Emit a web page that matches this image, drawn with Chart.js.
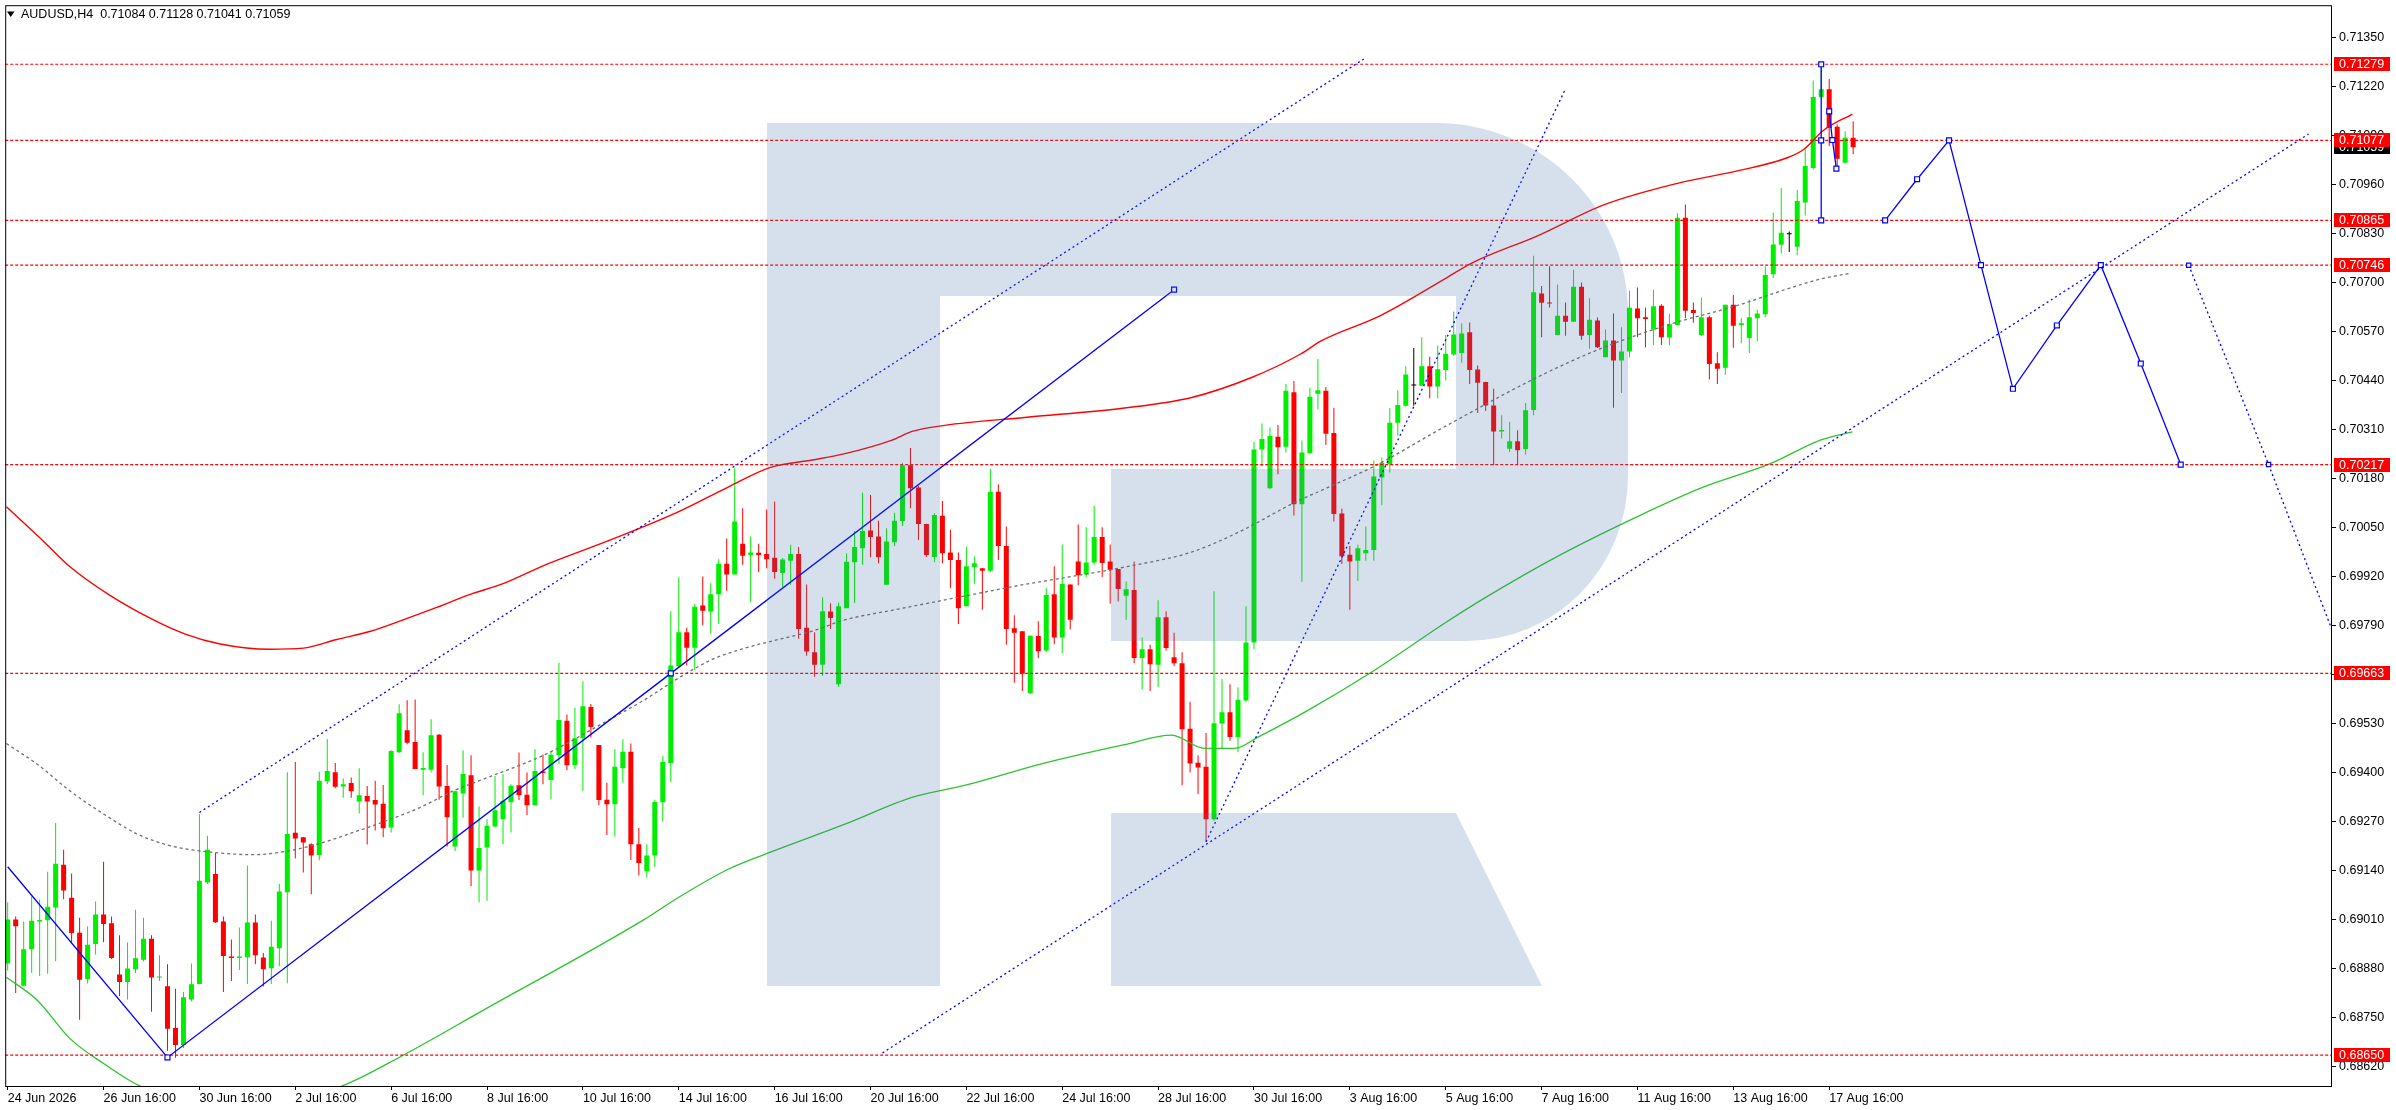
<!DOCTYPE html>
<html>
<head>
<meta charset="utf-8">
<title>AUDUSD,H4</title>
<script src="https://cdn.jsdelivr.net/npm/chart.js@4.4.1/dist/chart.umd.min.js"></script>
<style>
html, body { margin: 0; padding: 0; background: #fff; overflow: hidden; }
canvas { display: block; }
</style>
</head>
<body>
<canvas id="chart" width="2396" height="1110" style="width:2396px;height:1110px"></canvas>
<script>
// candles (H4): open / high / low / close
const opens = [
    0.68893, 0.69010, 0.68834, 0.68931, 0.69005, 0.69008, 0.69042, 0.69155, 0.69068, 0.68975,
    0.68852, 0.68945, 0.69023, 0.69000, 0.68864, 0.68844, 0.68878, 0.68903, 0.68959, 0.68856,
    0.68833, 0.68722, 0.68677, 0.68798, 0.68839, 0.69108, 0.69131, 0.69005, 0.68912, 0.68908,
    0.68910, 0.69002, 0.68909, 0.68881, 0.68934, 0.69082, 0.69240, 0.69228, 0.69210, 0.69181,
    0.69377, 0.69401, 0.69363, 0.69372, 0.69323, 0.69338, 0.69327, 0.69317, 0.69254, 0.69454,
    0.69512, 0.69481, 0.69407, 0.69407, 0.69500, 0.69364, 0.69204, 0.69344, 0.69393, 0.69140,
    0.69201, 0.69257, 0.69276, 0.69321, 0.69366, 0.69341, 0.69313, 0.69403, 0.69380, 0.69446,
    0.69537, 0.69419, 0.69491, 0.69574, 0.69473, 0.69328, 0.69316, 0.69411, 0.69455, 0.69210,
    0.69138, 0.69180, 0.69321, 0.69425, 0.69682, 0.69772, 0.69731, 0.69843, 0.69827, 0.69873,
    0.69954, 0.69925, 0.70007, 0.69977, 0.69983, 0.69980, 0.69970, 0.69929, 0.69962, 0.69980,
    0.69784, 0.69719, 0.69686, 0.69827, 0.69634, 0.69836, 0.69958, 0.69995, 0.70042, 0.70026,
    0.69898, 0.70011, 0.70067, 0.70215, 0.70156, 0.70059, 0.69972, 0.70081, 0.69984, 0.69964,
    0.69841, 0.69945, 0.69942, 0.69935, 0.70145, 0.70001, 0.69783, 0.69775, 0.69611, 0.69762,
    0.69724, 0.69873, 0.69758, 0.69899, 0.69960, 0.69925, 0.69957, 0.70025, 0.69960, 0.69940,
    0.69869, 0.69884, 0.69704, 0.69727, 0.69686, 0.69812, 0.69706, 0.69690, 0.69516, 0.69426,
    0.69415, 0.69276, 0.69530, 0.69560, 0.69494, 0.69591, 0.69745, 0.70257, 0.70154, 0.70291,
    0.70264, 0.70409, 0.70112, 0.70247, 0.70405, 0.70413, 0.70301, 0.70087, 0.69978, 0.69962,
    0.69982, 0.69990, 0.70183, 0.70218, 0.70328, 0.70373, 0.70427, 0.70426, 0.70478, 0.70424,
    0.70468, 0.70509, 0.70513, 0.70568, 0.70469, 0.70436, 0.70374, 0.70305, 0.70259, 0.70279,
    0.70258, 0.70362, 0.70671, 0.70647, 0.70561, 0.70612, 0.70596, 0.70689, 0.70561, 0.70599,
    0.70502, 0.70546, 0.70493, 0.70517, 0.70631, 0.70608, 0.70575, 0.70638, 0.70554, 0.70587,
    0.70872, 0.70627, 0.70561, 0.70608, 0.70486, 0.70474, 0.70641, 0.70587, 0.70553, 0.70605,
    0.70616, 0.70722, 0.70800, 0.70828, 0.70795, 0.70912, 0.71004, 0.71192, 0.71213, 0.71113,
    0.71018, 0.71084
];
const highs = [
    0.69056, 0.69018, 0.69005, 0.69071, 0.69063, 0.69137, 0.69266, 0.69195, 0.69132, 0.69015,
    0.68992, 0.69058, 0.69163, 0.69018, 0.68968, 0.68949, 0.69036, 0.69015, 0.68968, 0.68915,
    0.68891, 0.68826, 0.68818, 0.68893, 0.69289, 0.69232, 0.69187, 0.69018, 0.68957, 0.68989,
    0.69153, 0.69023, 0.68921, 0.69007, 0.69105, 0.69401, 0.69428, 0.69229, 0.69212, 0.69402,
    0.69489, 0.69425, 0.69384, 0.69387, 0.69411, 0.69364, 0.69378, 0.69367, 0.69459, 0.69581,
    0.69592, 0.69594, 0.69454, 0.69541, 0.69502, 0.69420, 0.69352, 0.69459, 0.69446, 0.69310,
    0.69276, 0.69391, 0.69396, 0.69369, 0.69453, 0.69400, 0.69462, 0.69448, 0.69457, 0.69691,
    0.69554, 0.69572, 0.69642, 0.69582, 0.69473, 0.69373, 0.69462, 0.69488, 0.69477, 0.69253,
    0.69210, 0.69328, 0.69444, 0.69828, 0.69918, 0.69784, 0.69847, 0.69920, 0.69902, 0.69966,
    0.70021, 0.70207, 0.70101, 0.70026, 0.70007, 0.70098, 0.70119, 0.69969, 0.70004, 0.69998,
    0.69899, 0.69772, 0.69865, 0.69849, 0.69851, 0.69982, 0.70041, 0.70143, 0.70136, 0.70068,
    0.70048, 0.70089, 0.70222, 0.70261, 0.70161, 0.70060, 0.70088, 0.70120, 0.70044, 0.69984,
    0.69999, 0.69973, 0.69942, 0.70205, 0.70164, 0.70053, 0.69817, 0.69775, 0.69763, 0.69801,
    0.69889, 0.69947, 0.70005, 0.69899, 0.70058, 0.70051, 0.70107, 0.70051, 0.70005, 0.69940,
    0.69907, 0.69960, 0.69758, 0.69739, 0.69857, 0.69828, 0.69771, 0.69719, 0.69588, 0.69446,
    0.69505, 0.69881, 0.69648, 0.69634, 0.69626, 0.69841, 0.70277, 0.70326, 0.70315, 0.70322,
    0.70431, 0.70439, 0.70281, 0.70421, 0.70497, 0.70423, 0.70368, 0.70100, 0.70001, 0.70004,
    0.70053, 0.70228, 0.70236, 0.70367, 0.70414, 0.70478, 0.70526, 0.70555, 0.70503, 0.70533,
    0.70561, 0.70623, 0.70592, 0.70594, 0.70480, 0.70437, 0.70418, 0.70348, 0.70330, 0.70308,
    0.70380, 0.70771, 0.70691, 0.70743, 0.70695, 0.70647, 0.70734, 0.70700, 0.70658, 0.70607,
    0.70575, 0.70618, 0.70581, 0.70679, 0.70687, 0.70634, 0.70681, 0.70642, 0.70617, 0.70884,
    0.70907, 0.70647, 0.70660, 0.70612, 0.70515, 0.70641, 0.70667, 0.70605, 0.70654, 0.70628,
    0.70743, 0.70885, 0.70951, 0.70835, 0.70946, 0.71053, 0.71236, 0.71279, 0.71240, 0.71119,
    0.71101, 0.71128
];
const lows = [
    0.68875, 0.68815, 0.68834, 0.68868, 0.68860, 0.68866, 0.68899, 0.69064, 0.68950, 0.68744,
    0.68840, 0.68917, 0.68950, 0.68905, 0.68807, 0.68798, 0.68868, 0.68899, 0.68765, 0.68847,
    0.68662, 0.68643, 0.68669, 0.68793, 0.68839, 0.69104, 0.69001, 0.68818, 0.68847, 0.68876,
    0.68839, 0.68891, 0.68832, 0.68839, 0.68886, 0.68841, 0.69172, 0.69135, 0.69077, 0.69167,
    0.69369, 0.69358, 0.69333, 0.69333, 0.69291, 0.69209, 0.69246, 0.69228, 0.69241, 0.69452,
    0.69475, 0.69409, 0.69340, 0.69400, 0.69328, 0.69204, 0.69192, 0.69280, 0.69098, 0.69056,
    0.69060, 0.69254, 0.69210, 0.69241, 0.69327, 0.69287, 0.69313, 0.69369, 0.69329, 0.69422,
    0.69406, 0.69409, 0.69351, 0.69493, 0.69314, 0.69234, 0.69230, 0.69373, 0.69168, 0.69127,
    0.69122, 0.69150, 0.69270, 0.69375, 0.69678, 0.69684, 0.69671, 0.69791, 0.69768, 0.69794,
    0.69882, 0.69925, 0.69951, 0.69852, 0.69932, 0.69942, 0.69914, 0.69892, 0.69898, 0.69755,
    0.69710, 0.69654, 0.69656, 0.69781, 0.69627, 0.69836, 0.69850, 0.69951, 0.69971, 0.69955,
    0.69898, 0.70001, 0.70054, 0.70101, 0.70017, 0.69972, 0.69958, 0.69955, 0.69889, 0.69794,
    0.69841, 0.69901, 0.69832, 0.69932, 0.69964, 0.69739, 0.69638, 0.69616, 0.69608, 0.69704,
    0.69720, 0.69740, 0.69717, 0.69780, 0.69897, 0.69918, 0.69952, 0.69919, 0.69848, 0.69854,
    0.69805, 0.69690, 0.69620, 0.69616, 0.69626, 0.69724, 0.69682, 0.69366, 0.69400, 0.69343,
    0.69216, 0.69272, 0.69464, 0.69484, 0.69454, 0.69588, 0.69727, 0.70213, 0.70152, 0.70191,
    0.70249, 0.70082, 0.69906, 0.70247, 0.70363, 0.70269, 0.70066, 0.69953, 0.69832, 0.69908,
    0.69962, 0.69962, 0.70109, 0.70196, 0.70294, 0.70371, 0.70373, 0.70426, 0.70393, 0.70392,
    0.70440, 0.70506, 0.70487, 0.70431, 0.70354, 0.70359, 0.70215, 0.70286, 0.70250, 0.70215,
    0.70244, 0.70348, 0.70555, 0.70634, 0.70561, 0.70559, 0.70596, 0.70548, 0.70524, 0.70526,
    0.70502, 0.70368, 0.70407, 0.70502, 0.70555, 0.70528, 0.70534, 0.70534, 0.70534, 0.70587,
    0.70605, 0.70593, 0.70559, 0.70443, 0.70431, 0.70455, 0.70527, 0.70539, 0.70513, 0.70544,
    0.70608, 0.70712, 0.70777, 0.70781, 0.70772, 0.70878, 0.71000, 0.71190, 0.71062, 0.71009,
    0.71016, 0.71041
];
const closes = [
    0.69010, 0.68992, 0.68931, 0.69007, 0.69009, 0.69044, 0.69158, 0.69087, 0.68974, 0.68850,
    0.68943, 0.69023, 0.68998, 0.68908, 0.68844, 0.68880, 0.68907, 0.68959, 0.68856, 0.68859,
    0.68720, 0.68677, 0.68804, 0.68838, 0.69113, 0.69195, 0.69003, 0.68913, 0.68908, 0.68912,
    0.69002, 0.68915, 0.68878, 0.68938, 0.69084, 0.69237, 0.69225, 0.69214, 0.69180, 0.69378,
    0.69404, 0.69362, 0.69369, 0.69350, 0.69340, 0.69323, 0.69315, 0.69252, 0.69457, 0.69557,
    0.69479, 0.69409, 0.69412, 0.69499, 0.69363, 0.69281, 0.69350, 0.69396, 0.69140, 0.69200,
    0.69259, 0.69300, 0.69325, 0.69365, 0.69340, 0.69313, 0.69404, 0.69399, 0.69447, 0.69539,
    0.69419, 0.69491, 0.69576, 0.69521, 0.69327, 0.69316, 0.69415, 0.69455, 0.69210, 0.69160,
    0.69180, 0.69322, 0.69428, 0.69684, 0.69772, 0.69731, 0.69840, 0.69829, 0.69873, 0.69954,
    0.69925, 0.70066, 0.69975, 0.69984, 0.69977, 0.69966, 0.69932, 0.69965, 0.69980, 0.69781,
    0.69721, 0.69686, 0.69828, 0.69810, 0.69841, 0.69959, 0.69998, 0.70041, 0.70025, 0.69971,
    0.70013, 0.70068, 0.70215, 0.70154, 0.70059, 0.69977, 0.70083, 0.69982, 0.69964, 0.69836,
    0.69947, 0.69955, 0.69935, 0.70145, 0.70001, 0.69781, 0.69771, 0.69662, 0.69763, 0.69722,
    0.69871, 0.69758, 0.69900, 0.69805, 0.69924, 0.69957, 0.70025, 0.69956, 0.69938, 0.69887,
    0.69886, 0.69704, 0.69727, 0.69687, 0.69812, 0.69730, 0.69690, 0.69515, 0.69424, 0.69413,
    0.69276, 0.69531, 0.69560, 0.69494, 0.69593, 0.69745, 0.70257, 0.70285, 0.70293, 0.70263,
    0.70413, 0.70112, 0.70249, 0.70397, 0.70414, 0.70299, 0.70086, 0.69974, 0.69960, 0.69995,
    0.69990, 0.70185, 0.70222, 0.70328, 0.70375, 0.70456, 0.70427, 0.70478, 0.70424, 0.70470,
    0.70511, 0.70562, 0.70565, 0.70468, 0.70434, 0.70374, 0.70305, 0.70309, 0.70279, 0.70255,
    0.70361, 0.70674, 0.70646, 0.70644, 0.70612, 0.70596, 0.70689, 0.70559, 0.70601, 0.70528,
    0.70546, 0.70493, 0.70517, 0.70633, 0.70605, 0.70603, 0.70637, 0.70555, 0.70589, 0.70872,
    0.70625, 0.70619, 0.70608, 0.70484, 0.70471, 0.70641, 0.70585, 0.70592, 0.70608, 0.70618,
    0.70720, 0.70801, 0.70832, 0.70828, 0.70916, 0.71009, 0.71192, 0.71213, 0.71110, 0.71028,
    0.71084, 0.71059
];

// axis ticks
const xTickBars = [0, 12, 24, 36, 48, 60, 72, 84, 96, 108, 120, 132, 144, 156, 168, 180, 192, 204, 216, 228];
const xTickLabels = ['24 Jun 2026', '26 Jun 16:00', '30 Jun 16:00', '2 Jul 16:00', '6 Jul 16:00',
    '8 Jul 16:00', '10 Jul 16:00', '14 Jul 16:00', '16 Jul 16:00', '20 Jul 16:00', '22 Jul 16:00',
    '24 Jul 16:00', '28 Jul 16:00', '30 Jul 16:00', '3 Aug 16:00', '5 Aug 16:00', '7 Aug 16:00',
    '11 Aug 16:00', '13 Aug 16:00', '17 Aug 16:00'];
const yTickValues = [0.68620, 0.68750, 0.68880, 0.69010, 0.69140, 0.69270, 0.69400, 0.69530,
    0.69660, 0.69790, 0.69920, 0.70050, 0.70180, 0.70310, 0.70440, 0.70570, 0.70700, 0.70830,
    0.70960, 0.71090, 0.71220, 0.71350];

// horizontal levels (red labels on the price scale)
const levelValues = [0.71279, 0.71077, 0.70865, 0.70746, 0.70217, 0.69663, 0.68650];

// moving averages (bar index, price)
const redMaX = [-0.16, 4.5, 7.8, 12.8, 18.25, 22.4, 26.6, 32.8, 37, 41.2, 45.3, 49.5, 53.7, 57.8,
    62, 67.3, 75.7, 84, 90.25, 95.4, 100.7, 104.8, 110.7, 113.2, 117.3, 127.3, 139.8, 148.2, 155.7,
    161.9, 164.4, 171.9, 180, 183.2, 191.5, 199.8, 209, 216.5, 222.75, 224.8, 227.3, 230.9];
const redMaY = [0.70105, 0.70013, 0.69946, 0.69870, 0.69805, 0.69766, 0.69741, 0.69727, 0.69730,
    0.69753, 0.69774, 0.69805, 0.69838, 0.69872, 0.69901, 0.69951, 0.70019, 0.70092, 0.70158,
    0.70209, 0.70229, 0.70246, 0.70282, 0.70305, 0.70321, 0.70342, 0.70367, 0.70395, 0.70448,
    0.70511, 0.70545, 0.70613, 0.70711, 0.70751, 0.70824, 0.70906, 0.70963, 0.70996, 0.71031,
    0.71053, 0.71104, 0.71147];
const greenMaX = [-0.16, 3.7, 7.8, 12, 16.6, 29, 41.8, 49.5, 59.5, 79.6, 84, 90.25, 95.4, 104.8,
    113.2, 120, 129.4, 139.8, 145.7, 149.8, 153.6, 156.5, 162.75, 170.7, 180, 184.8, 194.4, 204,
    212, 220.7, 226.9, 230.9];
const greenMaY = [0.68857, 0.68796, 0.68694, 0.68628, 0.68568, 0.68500, 0.68568, 0.68650, 0.68769,
    0.69009, 0.69069, 0.69144, 0.69188, 0.69263, 0.69334, 0.69367, 0.69423, 0.69474, 0.69499,
    0.69464, 0.69464, 0.69494, 0.69565, 0.69666, 0.69798, 0.69862, 0.69978, 0.70079, 0.70155,
    0.70220, 0.70282, 0.70304];
const grayMaX = [-0.16, 3.7, 7.8, 12, 16.2, 20.3, 24.5, 30.75, 34.9, 39.1, 43.25, 47.4, 51.6, 55.75,
    59.5, 67.3, 75.7, 79.8, 84, 88.2, 92.3, 96.5, 100.7, 104.8, 111.1, 120, 127.3, 135.7, 139.8,
    148.2, 154.4, 160.7, 164.8, 171.1, 180, 191.5, 199.8, 208.2, 216.5, 222.75, 226.9, 230.5];
const grayMaY = [0.69477, 0.69422, 0.69351, 0.69290, 0.69237, 0.69206, 0.69191, 0.69182, 0.69191,
    0.69212, 0.69241, 0.69272, 0.69307, 0.69351, 0.69382, 0.69448, 0.69545, 0.69594, 0.69651,
    0.69700, 0.69730, 0.69753, 0.69775, 0.69805, 0.69832, 0.69869, 0.69899, 0.69929, 0.69945,
    0.69985, 0.70041, 0.70112, 0.70152, 0.70213, 0.70319, 0.70449, 0.70528, 0.70590, 0.70639,
    0.70683, 0.70709, 0.70724];

// drawn objects (bar index, price)
const trendX = [0, 20, 83, 146];
const trendY = [0.69150, 0.68644, 0.69663, 0.70681];
const upperChannelX = [24, 169.75];
const upperChannelY = [0.69294, 0.71293];
const lowerChannelX = [109.5, 288];
const lowerChannelY = [0.68656, 0.71094];
const steepX = [150, 195];
const steepY = [0.69216, 0.71214];
const swingX = [227, 227, 227];
const swingY = [0.71279, 0.71077, 0.70865];
const pullbackX = [228, 228.4, 228.9];
const pullbackY = [0.71154, 0.71078, 0.71002];
const forecastX = [235, 239, 243, 247, 251, 256.5, 262, 267, 272];
const forecastY = [0.70865, 0.70974, 0.71077, 0.70746, 0.70418, 0.70586, 0.70746, 0.70485, 0.70217];
const altForecastX = [273, 283, 291];
const altForecastY = [0.70746, 0.70217, 0.69775];

const X_MIN = -0.3125;
const X_MAX = 290.9375;
const FONT = '12.5px "Liberation Sans", Arial, sans-serif';
const BULL = '#00EE00';
const BEAR = '#FF0000';
const BLUE = '#0000FF';

Chart.defaults.font.family = '"Liberation Sans", Arial, sans-serif';
Chart.defaults.font.size = 12.5;
Chart.defaults.color = '#000';

// ローソク足の色 (陽線・陰線・同値)
const candleColors = opens.map((o, i) => closes[i] > o ? BULL : (closes[i] < o ? BEAR : '#000'));

function lineSet(xs, ys, color, opt = {}) {
    return {
        type: 'line',
        data: xs.map((x, i) => ({x: x, y: ys[i]})),
        borderColor: color,
        borderWidth: opt.width || 1.3,
        borderDash: opt.dash || [],
        pointRadius: opt.points || 0,
        pointStyle: 'rect',
        pointBackgroundColor: '#fff',
        pointBorderColor: color,
        pointBorderWidth: 1.2,
        cubicInterpolationMode: opt.smooth ? 'monotone' : 'default',
        tension: 0,
        fill: false,
        order: opt.order || 1
    };
}

const datasets = [
    // wicks
    {
        type: 'bar',
        data: lows.map((l, i) => ({x: i, y: [l, highs[i]]})),
        backgroundColor: candleColors,
        barThickness: 1,
        grouped: false,
        inflateAmount: 0,
        borderWidth: 0,
        order: 9
    },
    // bodies
    {
        type: 'bar',
        data: opens.map((o, i) => ({x: i, y: [o, closes[i]]})),
        backgroundColor: candleColors,
        barThickness: 5,
        minBarLength: 1,
        grouped: false,
        inflateAmount: 0,
        borderWidth: 0,
        order: 8
    },
    lineSet(redMaX, redMaY, '#FF0000', {smooth: true, width: 1.4, order: 7}),
    lineSet(greenMaX, greenMaY, '#2EC42E', {smooth: true, width: 1.3, order: 7}),
    lineSet(grayMaX, grayMaY, '#707070', {smooth: true, dash: [3, 3], width: 1.3, order: 7}),
    ...levelValues.map(v => lineSet([X_MIN, X_MAX], [v, v], '#FF0000', {dash: [3, 2], width: 1.2, order: 6})),
    lineSet(trendX, trendY, BLUE, {points: [0, 3.5, 3.5, 3.5]}),
    lineSet(upperChannelX, upperChannelY, BLUE, {dash: [2, 3]}),
    lineSet(lowerChannelX, lowerChannelY, BLUE, {dash: [2, 3]}),
    lineSet(steepX, steepY, BLUE, {dash: [2, 3]}),
    lineSet(swingX, swingY, BLUE, {points: 3.5}),
    lineSet(pullbackX, pullbackY, BLUE, {points: 3.5}),
    lineSet(forecastX, forecastY, BLUE, {points: 3.5}),
    lineSet(altForecastX, altForecastY, BLUE, {dash: [2, 3], points: [3, 3, 0]})
];

// 背景
const background = {
    id: 'background',
    beforeDraw(chart) {
        const ctx = chart.ctx;
        ctx.save();
        ctx.fillStyle = '#fff';
        ctx.fillRect(0, 0, chart.width, chart.height);
        ctx.restore();
    }
};

// ロゴの透かし (R)
const watermark = {
    id: 'watermark',
    afterDatasetsDraw(chart) {
        const {ctx, chartArea: a} = chart;
        ctx.save();
        ctx.beginPath();
        ctx.rect(a.left, a.top, a.right - a.left, a.bottom - a.top);
        ctx.clip();
        ctx.fillStyle = 'rgba(70,115,170,0.22)';
        ctx.beginPath();
        ctx.rect(767, 123, 173, 863);
        ctx.moveTo(940, 123);
        ctx.lineTo(1436, 123);
        ctx.ellipse(1436, 313, 192, 190, 0, -Math.PI / 2, 0);
        ctx.lineTo(1628, 476);
        ctx.ellipse(1467, 476, 161, 165, 0, 0, Math.PI / 2);
        ctx.lineTo(1111, 641);
        ctx.lineTo(1111, 469);
        ctx.lineTo(1456, 469);
        ctx.lineTo(1456, 296);
        ctx.lineTo(940, 296);
        ctx.closePath();
        ctx.moveTo(1111, 813);
        ctx.lineTo(1456, 813);
        ctx.lineTo(1542, 986);
        ctx.lineTo(1111, 986);
        ctx.closePath();
        ctx.fill();
        ctx.restore();
    }
};

// 枠・タイトル・価格ラベル
const overlay = {
    id: 'overlay',
    afterDraw(chart) {
        const {ctx, chartArea: a} = chart;
        const yScale = chart.scales.y;
        const last = opens.length - 1;
        ctx.save();
        ctx.strokeStyle = '#000';
        ctx.lineWidth = 1;
        ctx.strokeRect(a.left + 0.5, a.top + 0.5, a.right - a.left - 1, a.bottom - a.top);

        ctx.fillStyle = '#000';
        ctx.beginPath();
        ctx.moveTo(7, 11.5);
        ctx.lineTo(14.5, 11.5);
        ctx.lineTo(10.75, 17);
        ctx.closePath();
        ctx.fill();
        ctx.font = FONT;
        ctx.textBaseline = 'middle';
        ctx.textAlign = 'left';
        const ohlc = [opens[last], highs[last], lows[last], closes[last]].map(v => v.toFixed(5)).join(' ');
        ctx.fillText('AUDUSD,H4  ' + ohlc, 21, 15);

        const box = (value, color) => {
            const y = yScale.getPixelForValue(value);
            ctx.fillStyle = color;
            ctx.fillRect(a.right + 2, Math.round(y) - 7, 56, 14);
            ctx.fillStyle = '#fff';
            ctx.fillText(value.toFixed(5), a.right + 7, y + 0.5);
        };
        box(closes[last], '#000');
        levelValues.forEach(v => box(v, '#FF0000'));
        ctx.restore();
    }
};

new Chart(document.getElementById('chart'), {
    type: 'bar',
    data: {datasets: datasets},
    options: {
        responsive: false,
        devicePixelRatio: 1,
        animation: false,
        events: [],
        layout: {padding: {top: 2, left: 2, right: 0, bottom: 0}},
        plugins: {
            legend: {display: false},
            tooltip: {enabled: false}
        },
        scales: {
            x: {
                type: 'linear',
                min: X_MIN,
                max: X_MAX,
                offset: false,
                grid: {display: true, offset: false, drawOnChartArea: false, drawTicks: true, tickLength: 4, color: '#000'},
                border: {display: false},
                ticks: {
                    autoSkip: false,
                    maxRotation: 0,
                    align: 'start',
                    padding: 1,
                    color: '#000',
                    callback: (v, i) => xTickLabels[i]
                },
                afterBuildTicks: scale => { scale.ticks = xTickBars.map(v => ({value: v})); },
                afterFit: scale => { scale.height = 24; scale.paddingLeft = 0; scale.paddingRight = 0; }
            },
            y: {
                type: 'linear',
                position: 'right',
                min: 0.685683,
                max: 0.714357,
                beginAtZero: false,
                grid: {display: true, drawOnChartArea: false, drawTicks: true, tickLength: 4, color: '#000'},
                border: {display: false},
                ticks: {
                    padding: 3,
                    color: '#000',
                    callback: v => v.toFixed(5)
                },
                afterBuildTicks: scale => { scale.ticks = yTickValues.map(v => ({value: v})); },
                afterFit: scale => { scale.width = 64; scale.paddingTop = 0; scale.paddingBottom = 0; }
            }
        }
    },
    plugins: [background, watermark, overlay]
});
</script>
</body>
</html>
